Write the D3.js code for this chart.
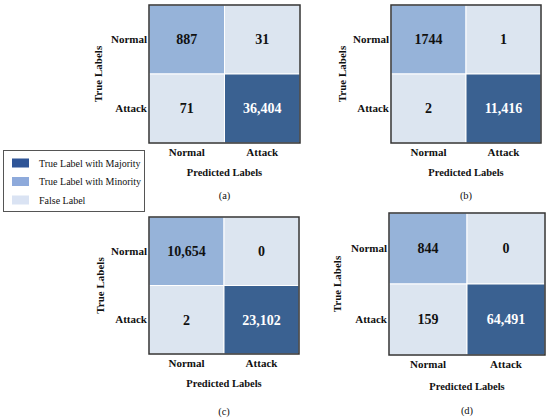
<!DOCTYPE html>
<html>
<head>
<meta charset="utf-8">
<script src="https://cdn.jsdelivr.net/npm/d3@7"></script>
<style>
  body { margin: 0; background: #fff; }
  text { font-family: 'Liberation Serif', 'Times New Roman', serif; fill: #111; }
</style>
</head>
<body>
<div id="chart"></div>
<script>
const categories = ['Normal', 'Attack']
const captions = ['(a)', '(b)', '(c)', '(d)']
// row-major: [true Normal -> pred Normal, true Normal -> pred Attack, true Attack -> pred Normal, true Attack -> pred Attack]
const matrixA = [887, 31, 71, 36404]
const matrixB = [1744, 1, 2, 11416]
const matrixC = [10654, 0, 2, 23102]
const matrixD = [844, 0, 159, 64491]
const legendLabels = ['True Label with Majority', 'True Label with Minority', 'False Label']

const colors = { majority: '#3a6191', minority: '#96b3d9', false: '#dce5f0' }
const legendColors = ['#2f5597', '#8eaadb', '#dae3f3']

const panels = [
  { m: matrixA, x0: 149, x1: 300, y0: 5, y1: 143, tl: 51, pl: 29, cap: 52 },
  { m: matrixB, x0: 391, x1: 541, y0: 5, y1: 143, tl: 49, pl: 29, cap: 52 },
  { m: matrixC, x0: 149, x1: 299, y0: 217, y1: 354, tl: 49, pl: 29, cap: 57 },
  { m: matrixD, x0: 389, x1: 545, y0: 213, y1: 355, tl: 52, pl: 31, cap: 55 }
]

const fmt = (v) => v >= 10000 ? d3.format(',')(v) : String(v)

const svg = d3.select('#chart')
  .append('svg')
  .attr('width', 550)
  .attr('height', 419)

panels.forEach((p, i) => {
  const xScale = d3.scaleBand().domain(categories).range([p.x0, p.x1])
  const yScale = d3.scaleBand().domain(categories).range([p.y0, p.y1])

  const cells = []
  categories.forEach((t, r) => {
    categories.forEach((pr, c) => {
      const v = p.m[r * 2 + c]
      let kind = 'false'
      if (r === c) {
        const other = p.m[(1 - r) * 2 + (1 - c)]
        kind = v >= other ? 'majority' : 'minority'
      }
      cells.push({ t, pr, v, kind })
    })
  })

  const g = svg.append('g')

  g.selectAll('rect.cell')
    .data(cells)
    .enter()
    .append('rect')
    .attr('class', 'cell')
    .attr('x', (d) => xScale(d.pr))
    .attr('y', (d) => yScale(d.t))
    .attr('width', xScale.bandwidth())
    .attr('height', yScale.bandwidth())
    .attr('fill', (d) => colors[d.kind])
    .attr('stroke', '#fff')
    .attr('stroke-width', 1)

  g.selectAll('text.val')
    .data(cells)
    .enter()
    .append('text')
    .attr('x', (d) => xScale(d.pr) + xScale.bandwidth() / 2)
    .attr('y', (d) => yScale(d.t) + yScale.bandwidth() / 2)
    .attr('dy', '0.35em')
    .attr('text-anchor', 'middle')
    .style('font-size', '14px')
    .style('font-weight', 'bold')
    .style('fill', (d) => d.kind === 'majority' ? '#fff' : '#111')
    .text((d) => fmt(d.v))

  g.append('rect')
    .attr('x', p.x0)
    .attr('y', p.y0)
    .attr('width', p.x1 - p.x0)
    .attr('height', p.y1 - p.y0)
    .attr('fill', 'none')
    .attr('stroke', '#333')
    .attr('stroke-width', 1.5)

  const left = g.append('g')
    .attr('transform', `translate(${p.x0 - 1},0)`)
    .call(d3.axisLeft(yScale).tickSize(0).tickPadding(1))
  const bottom = g.append('g')
    .attr('transform', `translate(0,${p.y1})`)
    .call(d3.axisBottom(xScale).tickSize(0).tickPadding(5))
  ;[left, bottom].forEach((ax) => {
    ax.select('.domain').remove()
    ax.selectAll('text')
      .style('font-size', '11px')
      .style('font-weight', 'bold')
      .attr('fill', '#111')
      .style('font-family', "'Liberation Serif', serif")
  })

  g.append('text')
    .attr('transform', `translate(${p.x0 - p.tl},${(p.y0 + p.y1) / 2}) rotate(-90)`)
    .attr('dy', '0.35em')
    .attr('text-anchor', 'middle')
    .style('font-size', '11px')
    .style('font-weight', 'bold')
    .text('True Labels')

  g.append('text')
    .attr('x', (p.x0 + p.x1) / 2)
    .attr('y', p.y1 + p.pl)
    .attr('dy', '0.35em')
    .attr('text-anchor', 'middle')
    .style('font-size', '10.5px')
    .style('font-weight', 'bold')
    .text('Predicted Labels')

  g.append('text')
    .attr('x', (p.x0 + p.x1) / 2)
    .attr('y', p.y1 + p.cap)
    .attr('dy', '0.35em')
    .attr('text-anchor', 'middle')
    .style('font-size', '10.5px')
    .text(captions[i])
})

// legend
const legend = svg.append('g')
legend.append('rect')
  .attr('x', 3.5)
  .attr('y', 150.5)
  .attr('width', 141)
  .attr('height', 61)
  .attr('fill', '#fff')
  .attr('stroke', '#555')
  .attr('stroke-width', 1)

const ly = d3.scalePoint().domain(legendLabels).range([163, 200])

legend.selectAll('rect.sw')
  .data(legendLabels)
  .enter()
  .append('rect')
  .attr('class', 'sw')
  .attr('x', 12)
  .attr('y', (d) => ly(d) - 4.5)
  .attr('width', 17)
  .attr('height', 9)
  .attr('fill', (d, i) => legendColors[i])

legend.selectAll('text')
  .data(legendLabels)
  .enter()
  .append('text')
  .attr('x', 39)
  .attr('y', (d) => ly(d))
  .attr('dy', '0.35em')
  .style('font-size', '10px')
  .text((d) => d)
</script>
</body>
</html>
